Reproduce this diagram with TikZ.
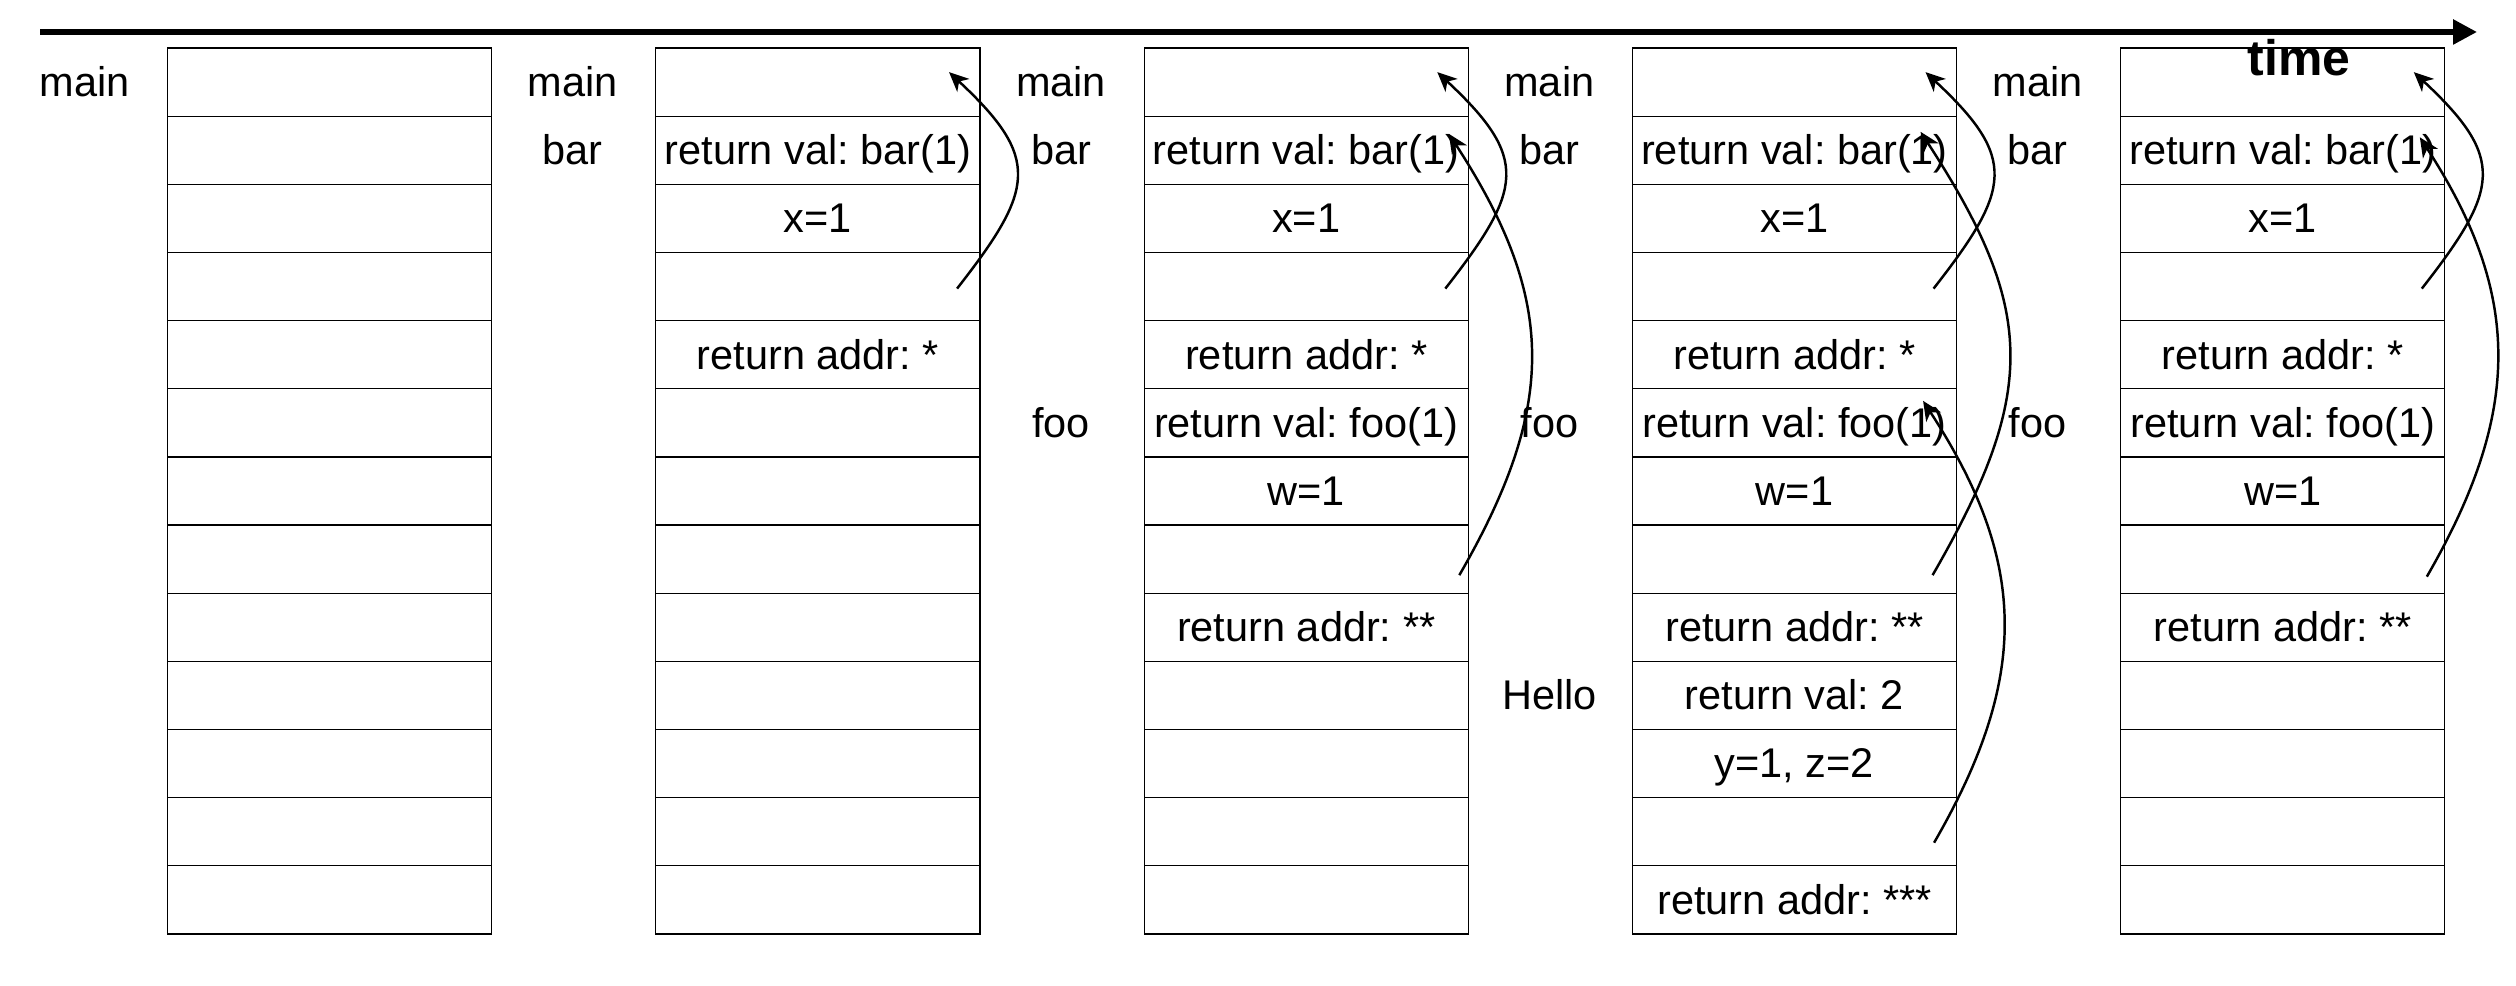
\documentclass[tikz,border=0pt]{standalone}
\usepackage{fontspec}
\setmainfont{Liberation Sans}
\usetikzlibrary{matrix,arrows.meta,calc}
\frenchspacing

\begin{document}
\begin{tikzpicture}[x=0.01cm, y=0.01cm,
	stack/.style={matrix of nodes, nodes in empty cells, anchor=north west,
		inner sep=0pt, outer sep=0pt, row sep=-0.35pt,
		nodes={draw, line width=0.35pt, minimum width=3.24cm, minimum height=0.681cm,
			inner sep=0pt, outer sep=0pt, font=\fontsize{11.8}{14}\selectfont,
			text height=10.7pt, text depth=2.5pt}},
	frame/.style={font=\fontsize{11.8}{14}\selectfont, inner sep=0pt,
		text height=10.7pt, text depth=2.5pt},
	ret/.style={-{Stealth[length=5.5pt, width=5pt, inset=1.6pt]}, line width=0.7pt}]
	\useasboundingbox (0,0) rectangle (2516,-986);

	% time axis
	\coordinate (t0) at (40,-32);
	\coordinate (t1) at (2477,-32);
	\draw[line width=1.6pt, -{Triangle[length=6.8pt, width=6.8pt]}] (t0) -- (t1);
	\node[frame, font=\bfseries\fontsize{14.2}{17}\selectfont, text height=12.85pt,
		text depth=3pt] (time) at (2299,-58) {time};

	% the stack at five moments
	\matrix (s1) [stack] at (167,-47.5) {
		\\ \\ \\ \\ \\ \\ \\ \\ \\ \\ \\ \\ \\
	};
	\matrix (s2) [stack] at (655.25,-47.5) {
		\\ return val: bar(1) \\ x=1 \\ \\ return addr: * \\
		\\ \\ \\ \\ \\ \\ \\ \\
	};
	\matrix (s3) [stack] at (1143.5,-47.5) {
		\\ return val: bar(1) \\ x=1 \\ \\ return addr: * \\
		return val: foo(1) \\ w=1 \\ \\ return addr: ** \\
		\\ \\ \\ \\
	};
	\matrix (s4) [stack] at (1631.75,-47.5) {
		\\ return val: bar(1) \\ x=1 \\ \\ return addr: * \\
		return val: foo(1) \\ w=1 \\ \\ return addr: ** \\
		return val: 2 \\ y=1, z=2 \\ \\ return addr: *** \\
	};
	\matrix (s5) [stack] at (2120,-47.5) {
		\\ return val: bar(1) \\ x=1 \\ \\ return addr: * \\
		return val: foo(1) \\ w=1 \\ \\ return addr: ** \\
		\\ \\ \\ \\
	};

	% frame names
	\foreach \c in {1,...,5}
		\node[frame] (main\c) at ([xshift=-0.83cm]s\c-1-1.west) {main};
	\foreach \c in {2,...,5}
		\node[frame] (bar\c) at ([xshift=-0.83cm]s\c-2-1.west) {bar};
	\foreach \c in {3,4,5}
		\node[frame] (foo\c) at ([xshift=-0.83cm]s\c-6-1.west) {foo};
	\node[frame] (hello4) at ([xshift=-0.83cm]s4-10-1.west) {Hello};

	% return addresses
	\path[ret]
	($(s2-4-1.east)+(-23,-2)$) edge[out=52, in=-43, looseness=1.49] ($(s2-1-1.east)+(-31,10)$)
	($(s3-4-1.east)+(-23,-2)$) edge[out=52, in=-43, looseness=1.49] ($(s3-1-1.east)+(-31,10)$)
	($(s4-4-1.east)+(-23,-2)$) edge[out=52, in=-43, looseness=1.49] ($(s4-1-1.east)+(-31,10)$)
	($(s5-4-1.east)+(-23,-2)$) edge[out=52, in=-43, looseness=1.49] ($(s5-1-1.east)+(-31,10)$)
	($(s3-8-1.east)+(-9,-16)$) edge[out=60, in=-57, looseness=1.14] ($(s3-2-1.east)+(-19.5,16.5)$)
	($(s4-8-1.east)+(-24,-16)$) edge[out=60, in=-57, looseness=1.22] ($(s4-2-1.east)+(-36,18.5)$)
	($(s5-8-1.east)+(-18,-17.5)$) edge[out=60, in=-57, looseness=1.1] ($(s5-2-1.east)+(-25,13)$)
	($(s4-12-1.east)+(-22.5,-11)$) edge[out=60, in=-57, looseness=1.11] ($(s4-6-1.east)+(-33.5,22)$);
\end{tikzpicture}
\end{document}
